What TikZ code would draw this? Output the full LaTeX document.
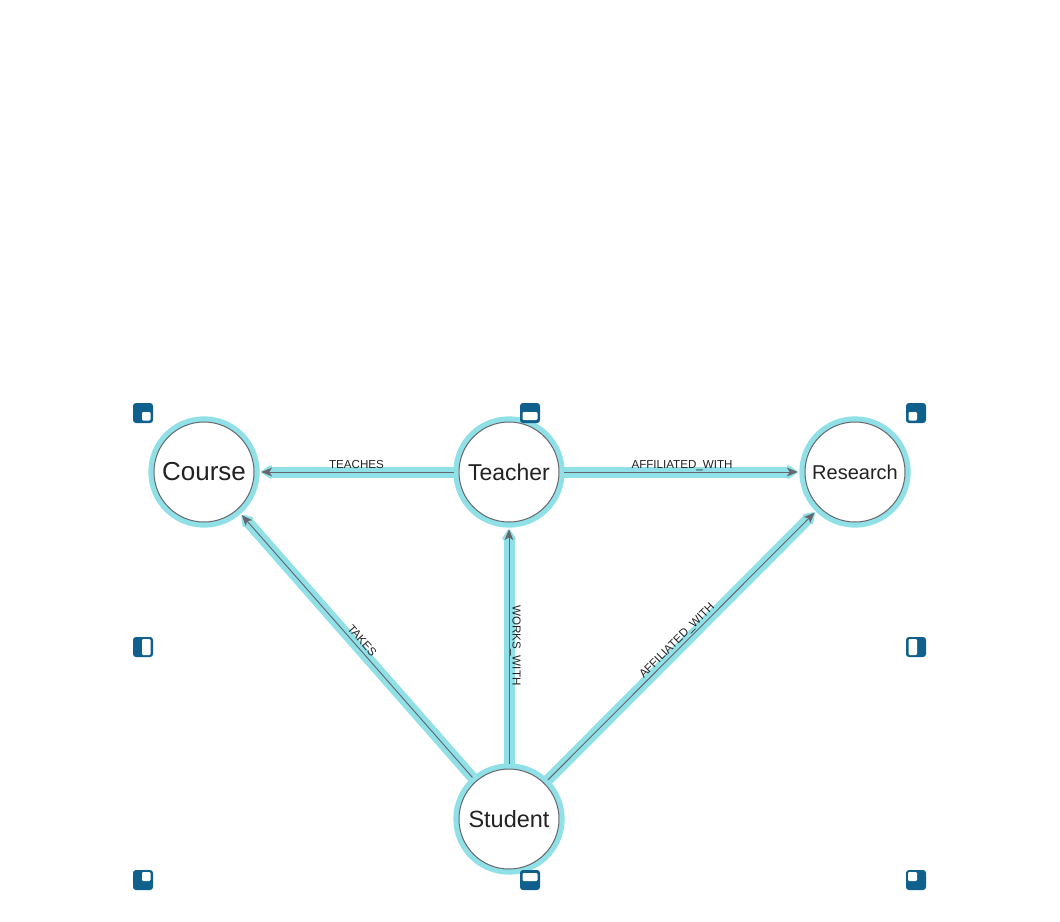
\documentclass[tikz,border=0pt]{standalone}
\usepackage{fontspec}
\setmainfont{Liberation Sans}
\usepackage{tikz}
\usetikzlibrary{arrows.meta}

\definecolor{ringcyan}{RGB}{143,224,231}
\definecolor{linkgray}{RGB}{102,102,108}
\definecolor{handleblue}{RGB}{16,96,142}
\definecolor{labelink}{RGB}{34,34,34}

\tikzset{
	entity/.style={circle, draw=linkgray, line width=0.75pt, fill=white, minimum size=75pt,
		inner sep=0pt, outer sep=4pt, text=labelink, preaction={draw=ringcyan, line width=8.5pt}},
	glow/.style={draw=ringcyan, line width=8.25pt, -{Triangle[length=9pt,width=11.5pt,round]}},
	rel/.style={draw=linkgray, line width=0.7pt, shorten >=1.5pt,
		-{Stealth[length=8pt,width=6.5pt,inset=2pt]}, preaction={glow}},
	rellabel/.style={font=\fontsize{8.7}{10}\selectfont, text=labelink, inner sep=2.4pt,
		text height=6.3pt, text depth=0pt},
}

\begin{document}
\begin{tikzpicture}[x=0.75pt, y=-0.75pt]
			\useasboundingbox (0, 0) rectangle (1060, 921);

			\node[entity, font=\fontsize{19.5}{22}\selectfont] (course) at (204, 472) {Course};
			\node[entity, font=\fontsize{17.2}{20}\selectfont] (teacher) at (509, 472) {Teacher};
			\node[entity, font=\fontsize{15}{18}\selectfont] (research) at (855, 472) {Research};
			\node[entity, font=\fontsize{17.6}{20}\selectfont] (student) at (509, 819) {Student};

			\draw [rel] (teacher) to node[rellabel, above] {TEACHES} (course);
			\draw [rel] (teacher) to node[rellabel, above] {AFFILIATED\_WITH} (research);
			\draw [rel] (student) to node[rellabel, midway, rotate=-90, anchor=south] {WORKS\_WITH} (teacher);
			\draw [rel] (student) to node[rellabel, sloped, above] {TAKES} (course);
			\draw [rel] (student) to node[rellabel, sloped, above] {AFFILIATED\_WITH} (research);

			% selection handles
			\foreach \hx/\hy/\ax/\ay/\bx/\by in {143/413/-1/-1/7.5/7.5, 530/413/-7.5/-1/7.5/7,
				916/413/-7.5/-1/1/7.5, 143/647/-1/-8/7.5/8, 916/647/-7.5/-8/1/8,
				143/880/-1/-8/7.5/1, 530/880/-7.5/-7/7.5/1, 916/880/-8/-8/1/1} {
				\fill[handleblue, rounded corners=2.2pt] ({\hx-10}, {\hy-10}) rectangle ({\hx+10}, {\hy+10});
				\fill[white, rounded corners=0.8pt] ({\hx+\ax}, {\hy+\ay}) rectangle ({\hx+\bx}, {\hy+\by});
			}
	\end{tikzpicture}
\end{document}
